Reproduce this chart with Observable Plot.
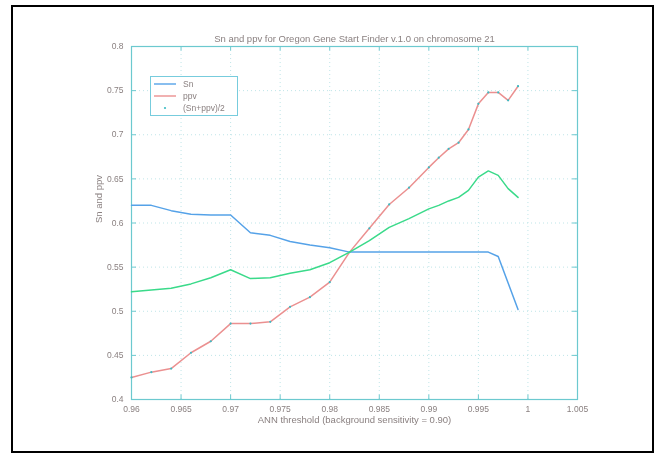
<!DOCTYPE html>
<html>
<head>
<meta charset="utf-8">
<script src="https://cdn.jsdelivr.net/npm/d3@7"></script>
<script src="https://cdn.jsdelivr.net/npm/@observablehq/plot@0.6"></script>
<style>
  html, body { margin: 0; padding: 0; background: #fff; }
  #wrap { position: relative; width: 661px; height: 453px; font-family: "Liberation Sans", Arial, sans-serif; }
  #chart, #legend { filter: blur(0.45px); }
  #border { position: absolute; left: 11px; top: 5px; width: 639px; height: 444px; border: 2px solid #000; pointer-events: none; }
  #legend { position: absolute; left: 150px; top: 76px; width: 86px; height: 38px; border: 1px solid #7cd; background: #fff; font-size: 8.5px; color: #8a8080; }
  .row { position: absolute; left: 0; height: 12px; display: flex; align-items: center; }
  .row svg { margin-left: 3px; margin-right: 7px; }
</style>
</head>
<body>
<div id="wrap">
  <div id="chart"></div>
  <div id="legend"></div>
  <div id="border"></div>
</div>
<script>
const title = "Sn and ppv for Oregon Gene Start Finder v.1.0 on chromosome 21";
const xLabel = "ANN threshold (background sensitivity = 0.90)";
const yLabel = "Sn and ppv";
const seriesNames = ["Sn", "ppv", "(Sn+ppv)/2"];

const threshold = [0.960,0.962,0.964,0.966,0.968,0.970,0.972,0.974,0.976,0.978,0.980,0.982,0.984,0.986,0.988,0.990,0.991,0.992,0.993,0.994,0.995,0.996,0.997,0.998,0.999];
const sn  = [0.620,0.620,0.614,0.610,0.609,0.609,0.589,0.586,0.579,0.575,0.572,0.567,0.567,0.567,0.567,0.567,0.567,0.567,0.567,0.567,0.567,0.567,0.562,0.532,0.502];
const ppv = [0.425,0.431,0.435,0.453,0.466,0.486,0.486,0.488,0.505,0.516,0.533,0.567,0.594,0.621,0.640,0.663,0.674,0.684,0.691,0.706,0.735,0.748,0.748,0.739,0.755];
const avg = [0.522,0.524,0.526,0.531,0.538,0.547,0.537,0.538,0.543,0.547,0.555,0.567,0.580,0.595,0.605,0.616,0.620,0.625,0.629,0.637,0.652,0.659,0.654,0.639,0.629];

const xTicks = [0.96,0.965,0.97,0.975,0.98,0.985,0.99,0.995,1.0,1.005];
const xTickLabels = ["0.96","0.965","0.97","0.975","0.98","0.985","0.99","0.995","1","1.005"];
const yTicks = [0.4,0.45,0.5,0.55,0.6,0.65,0.7,0.75,0.8];
const yTickLabels = ["0.4","0.45","0.5","0.55","0.6","0.65","0.7","0.75","0.8"];

const colors = ["#55a2e8", "#eb9090", "#3ada8a"];
const markerColor = "#3bbcc4";
const axisColor = "#6cc9cf";
const textColor = "#8a8080";

const snData = threshold.map((x, i) => ({x, y: sn[i]}));
const ppvData = threshold.map((x, i) => ({x, y: ppv[i]}));
const avgData = threshold.map((x, i) => ({x, y: avg[i]}));

const xDom = [0.96, 1.005], yDom = [0.4, 0.8];

const chart = Plot.plot({
  width: 661, height: 453,
  marginLeft: 131, marginRight: 84, marginTop: 46, marginBottom: 54,
  style: { fontFamily: "'Liberation Sans', Arial, sans-serif", background: "transparent" },
  x: { domain: xDom },
  y: { domain: yDom },
  marks: [
    Plot.gridX(xTicks, { stroke: "#bfe5e8", strokeOpacity: 1, strokeDasharray: "1,3" }),
    Plot.gridY(yTicks, { stroke: "#bfe5e8", strokeOpacity: 1, strokeDasharray: "1,3" }),
    Plot.ruleX(xTicks, { y1: yDom[0], y2: yDom[0] + 0.005, stroke: axisColor }),
    Plot.ruleX(xTicks, { y1: yDom[1], y2: yDom[1] - 0.005, stroke: axisColor }),
    Plot.ruleY(yTicks, { x1: xDom[0], x2: xDom[0] + 0.0005, stroke: axisColor }),
    Plot.ruleY(yTicks, { x1: xDom[1], x2: xDom[1] - 0.0005, stroke: axisColor }),
    Plot.frame({ stroke: axisColor, strokeWidth: 1.2 }),
    Plot.axisX(xTicks, { tickSize: 0, tickPadding: 6, tickFormat: (d, i) => xTickLabels[i], fontSize: 8.5, fill: textColor, label: null }),
    Plot.axisY(yTicks, { tickSize: 0, tickPadding: 8, tickFormat: (d, i) => yTickLabels[i], fontSize: 8.5, fill: textColor, label: null }),
    Plot.line(snData, { x: "x", y: "y", stroke: colors[0], strokeWidth: 1.5 }),
    Plot.line(ppvData, { x: "x", y: "y", stroke: colors[1], strokeWidth: 1.5 }),
    Plot.dot(ppvData, { x: "x", y: "y", r: 1.1, fill: markerColor, stroke: null }),
    Plot.line(avgData, { x: "x", y: "y", stroke: colors[2], strokeWidth: 1.5 }),
    Plot.text([title], { frameAnchor: "top", dy: -11, fontSize: 9.5, fill: textColor }),
    Plot.text([xLabel], { frameAnchor: "bottom", dy: 23, fontSize: 9.5, fill: textColor }),
    Plot.text([yLabel], { frameAnchor: "left", dx: -33, rotate: -90, fontSize: 9.5, fill: textColor })
  ]
});
document.getElementById("chart").appendChild(chart);

// legend
const legend = document.getElementById("legend");
const rowTops = [1, 13, 25];
seriesNames.forEach((name, i) => {
  const row = document.createElement("div");
  row.className = "row";
  row.style.top = rowTops[i] + "px";
  let sample;
  if (i < 2) {
    sample = `<svg width="22" height="6"><line x1="0" x2="22" y1="3" y2="3" stroke="${colors[i]}" stroke-width="1.4"/></svg>`;
  } else {
    sample = `<svg width="22" height="6"><circle cx="11" cy="3" r="1.1" fill="${markerColor}"/></svg>`;
  }
  row.innerHTML = sample + `<span>${name}</span>`;
  legend.appendChild(row);
});
</script>
</body>
</html>
